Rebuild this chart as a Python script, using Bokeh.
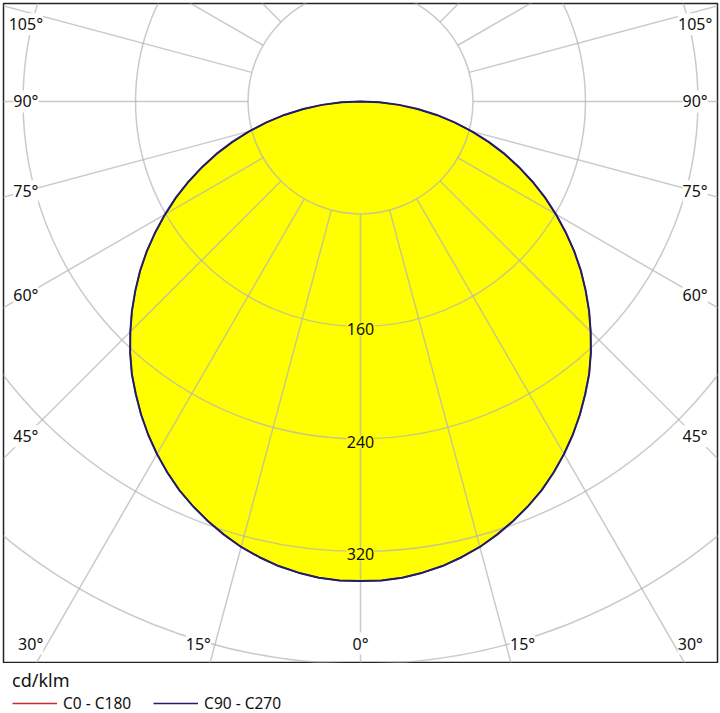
import numpy as np
from bokeh.plotting import figure
from bokeh.layouts import column
from bokeh.models import Range1d, Legend, LegendItem, LabelSet, ColumnDataSource
from bokeh.core.properties import value
from bokeh.embed import file_html
from bokeh.resources import INLINE

# luminous intensity in cd/klm, gamma measured from nadir (2.5 deg steps)
gamma = [0, 2.5, 5, 7.5, 10, 12.5, 15, 17.5, 20, 22.5, 25, 27.5, 30, 32.5, 35, 37.5,
         40, 42.5, 45, 47.5, 50, 52.5, 55, 57.5, 60, 62.5, 65, 67.5, 70, 72.5, 75,
         77.5, 80, 82.5, 85, 87.5, 90]
c0_c180 = [341, 341, 340, 338, 335.5, 332, 328, 323, 317.5, 311.5, 305, 297.5, 289.5,
           281, 272, 262.5, 253, 242.5, 231.5, 220.5, 209, 197.5, 185.5, 173, 160.5,
           148, 135, 122, 109, 95.5, 82, 68.5, 55, 41, 27.5, 13.5, 0]
c90_c270 = [341, 341, 340, 338, 335.5, 332, 328, 323, 317.5, 311.5, 305, 297.5, 289.5,
            281, 272, 262.5, 253, 242.5, 231.5, 220.5, 209, 197.5, 185.5, 173, 160.5,
            148, 135, 122, 109, 95.5, 82, 68.5, 55, 41, 27.5, 13.5, 0]

rings = [80, 160, 240, 320, 400]
ring_labels = ["160", "240", "320"]
angle_ticks = [0, 15, 30, 45, 60, 75, 90, 105]

FONT = value("Noto Sans")
GRID = "#b4b4b4"
RED = "#cc2a2a"
BLUE = "#1e1e6e"
INK = "#111111"


def curve(vals):
    g = np.radians([-a for a in gamma[:0:-1]] + gamma)
    r = np.array(vals[:0:-1] + vals, dtype=float)
    return r * np.sin(g), -r * np.cos(g)


p = figure(width=720, height=663, output_backend="svg", toolbar_location=None,
           x_range=Range1d(-253.9, 253.9), y_range=Range1d(-399, 69.7),
           min_border_left=3, min_border_right=3, min_border_top=3, min_border_bottom=1)
p.axis.visible = False
p.grid.visible = False
p.outline_line_color = "#222222"
p.outline_line_width = 1.5
p.background_fill_color = "white"
p.border_fill_color = "white"

xf, yf = curve(c90_c270)
p.patch(xf, yf, fill_color="#ffff00", line_color=None)

# grid: rings and radial lines from the 80 ring outward
p.circle(x=0, y=0, radius=rings, fill_color=None, line_color=GRID, line_alpha=0.7, line_width=1.5)
spokes = np.radians(np.arange(-165, 181, 15))
p.segment(x0=80 * np.sin(spokes), y0=-80 * np.cos(spokes),
          x1=900 * np.sin(spokes), y1=-900 * np.cos(spokes),
          line_color=GRID, line_alpha=0.7, line_width=1.5)

x0, y0 = curve(c0_c180)
p.line(x0, y0, line_color=RED, line_width=1.5)
x9, y9 = curve(c90_c270)
p.line(x9, y9, line_color=BLUE, line_width=2)

# intensity labels on the vertical axis
ring_src = ColumnDataSource(dict(x=[0] * len(ring_labels),
                                 y=[-float(t) for t in ring_labels],
                                 t=ring_labels))
p.add_layout(LabelSet(x="x", y="y", text="t", source=ring_src, y_offset=-3,
                      text_align="center", text_baseline="middle",
                      text_font=FONT, text_font_size=value("16px"), text_color=INK,
                      background_fill_color="#ffff00"))

# angle labels where the spokes meet an inset box
side, bottom, top, shift = 238.0, 385.5, 55.0, 12.0
lx, ly, lt = [], [], []
for a in angle_ticks:
    g = np.radians(a)
    s, c = np.sin(g), np.cos(g)
    t_side = side / s if s > 0 else np.inf
    t_bot = bottom / c if c > 0 else np.inf
    if t_bot < t_side:
        px, py = t_bot * s, -bottom
        px = px + shift if a > 0 else px
    else:
        px, py = side, min(-t_side * c, top)
    for sign in ([1, -1] if a > 0 else [1]):
        lx.append(sign * px)
        ly.append(py)
        lt.append(f"{a}°")
ang_src = ColumnDataSource(dict(x=lx, y=ly, t=lt))
p.add_layout(LabelSet(x="x", y="y", text="t", source=ang_src,
                      text_align="center", text_baseline="middle",
                      text_font=FONT, text_font_size=value("16px"), text_color=INK,
                      background_fill_color="white"))

# legend strip under the diagram
lg = figure(width=720, height=50, output_backend="svg", toolbar_location=None,
            x_range=Range1d(0, 1), y_range=Range1d(0, 1),
            min_border_left=0, min_border_right=0, min_border_top=0, min_border_bottom=0)
lg.axis.visible = False
lg.grid.visible = False
lg.outline_line_color = None
lg.border_fill_color = "white"
lg.background_fill_color = "white"
r_red = lg.line([5, 6], [5, 6], line_color=RED, line_width=1.5)
r_blue = lg.line([5, 6], [5, 6], line_color=BLUE, line_width=1.5)
legend = Legend(items=[LegendItem(label="C0 - C180", renderers=[r_red]),
                       LegendItem(label="C90 - C270", renderers=[r_blue])],
                title="cd/klm", orientation="horizontal", location=(9, -1),
                margin=0, padding=0, spacing=22, label_standoff=6,
                glyph_width=45, glyph_height=16, label_height=16,
                title_standoff=-4, border_line_color=None, background_fill_alpha=0)
legend.title_text_font = "Noto Sans"
legend.title_text_font_size = "18px"
legend.title_text_font_style = "normal"
legend.title_text_color = INK
legend.label_text_font = "Noto Sans"
legend.label_text_font_size = "15.5px"
legend.label_text_color = INK
lg.add_layout(legend)

open("out.html", "w").write(file_html(column(p, lg), INLINE))
